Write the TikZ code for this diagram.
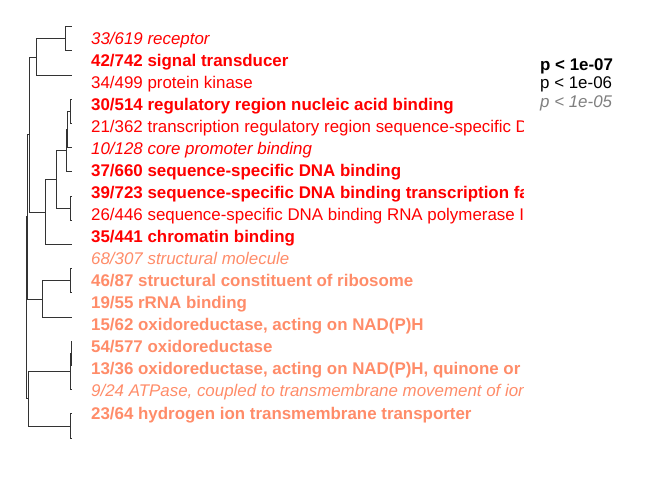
\documentclass[tikz,border=0pt]{standalone}
\usepackage{fontspec}
\setmainfont{Liberation Sans}
\definecolor{sigred}{RGB}{255,0,0}
\definecolor{sigsalmon}{RGB}{255,140,105}
\definecolor{leggray}{RGB}{127,127,127}
\begin{document}
\begin{tikzpicture}[x=1pt,y=-1pt,
  tree/.style={draw=black!80,line width=0.9pt},
  lbl/.style={anchor=base west,inner sep=0pt,font=\fontsize{16.9}{20}\selectfont},
  bf/.style={font=\fontsize{16.9}{20}\selectfont\bfseries},
  it/.style={font=\fontsize{16.9}{20}\selectfont\itshape},
  rd/.style={text=sigred},
  sl/.style={text=sigsalmon}]
\useasboundingbox (0,0) rectangle (672,480);
% leaves
\foreach \i in {0,...,17}{
  \coordinate (L\i) at (71.7,{26.7+24.2*\i});
}
% internal nodes
\coordinate (n01) at (65.3,38.8);
\coordinate (A) at (36,57);
\coordinate (n34) at (70.7,111.4);
\coordinate (P) at (67,129.6);
\coordinate (Q) at (66.3,150.7);
\coordinate (n78) at (70.7,208.2);
\coordinate (R) at (56,179.5);
\coordinate (S) at (45.3,212);
\coordinate (T) at (29,134.5);
\coordinate (n1011) at (70.7,280.8);
\coordinate (V) at (42.7,299);
\coordinate (N1) at (27.3,216.8);
\coordinate (n1314) at (71,353.4);
\coordinate (X) at (70.5,371.6);
\coordinate (Y) at (70.7,426);
\coordinate (W) at (28.5,398.8);
\coordinate (root) at (26.7,307.8);
% edges
\draw[tree] (n01) |- (L0); \draw[tree] (n01) |- (L1);
\draw[tree] (A) |- (n01); \draw[tree] (A) |- (L2);
\draw[tree] (n34) |- (L3); \draw[tree] (n34) |- (L4);
\draw[tree] (P) |- (n34); \draw[tree] (P) |- (L5);
\draw[tree] (Q) |- (P); \draw[tree] (Q) |- (L6);
\draw[tree] (n78) |- (L7); \draw[tree] (n78) |- (L8);
\draw[tree] (R) |- (Q); \draw[tree] (R) |- (n78);
\draw[tree] (S) |- (R); \draw[tree] (S) |- (L9);
\draw[tree] (T) |- (A); \draw[tree] (T) |- (S);
\draw[tree] (n1011) |- (L10); \draw[tree] (n1011) |- (L11);
\draw[tree] (V) |- (n1011); \draw[tree] (V) |- (L12);
\draw[tree] (N1) |- (T); \draw[tree] (N1) |- (V);
\draw[tree] (n1314) |- (L13); \draw[tree] (n1314) |- (L14);
\draw[tree] (X) |- (n1314); \draw[tree] (X) |- (L15);
\draw[tree] (Y) |- (L16); \draw[tree] (Y) |- (L17);
\draw[tree] (W) |- (X); \draw[tree] (W) |- (Y);
\draw[tree] (root) |- (N1); \draw[tree] (root) |- (W);
% labels
\begin{scope}
\clip (0,0) rectangle (523,480);
\node[lbl,it,rd] (t1) at (91,{44+22.06*0}) {33/619 receptor};
\node[lbl,bf,rd] (t2) at (91,{44+22.06*1}) {42/742 signal transducer};
\node[lbl,rd] (t3) at (91,{44+22.06*2}) {34/499 protein kinase};
\node[lbl,bf,rd] (t4) at (91,{44+22.06*3}) {30/514 regulatory region nucleic acid binding};
\node[lbl,rd] (t5) at (91,{44+22.06*4}) {21/362 transcription regulatory region sequence-specific D};
\node[lbl,it,rd] (t6) at (91,{44+22.06*5}) {10/128 core promoter binding};
\node[lbl,bf,rd] (t7) at (91,{44+22.06*6}) {37/660 sequence-specific DNA binding};
\node[lbl,bf,rd] (t8) at (91,{44+22.06*7}) {39/723 sequence-specific DNA binding transcription fa};
\node[lbl,rd] (t9) at (91,{44+22.06*8}) {26/446 sequence-specific DNA binding RNA polymerase I};
\node[lbl,bf,rd] (t10) at (91,{44+22.06*9}) {35/441 chromatin binding};
\node[lbl,it,sl] (t11) at (91,{44+22.06*10}) {68/307 structural molecule};
\node[lbl,bf,sl] (t12) at (91,{44+22.06*11}) {46/87 structural constituent of ribosome};
\node[lbl,bf,sl] (t13) at (91,{44+22.06*12}) {19/55 rRNA binding};
\node[lbl,bf,sl] (t14) at (91,{44+22.06*13}) {15/62 oxidoreductase, acting on NAD(P)H};
\node[lbl,bf,sl] (t15) at (91,{44+22.06*14}) {54/577 oxidoreductase};
\node[lbl,bf,sl] (t16) at (91,{44+22.06*15}) {13/36 oxidoreductase, acting on NAD(P)H, quinone or};
\node[lbl,it,sl] (t17) at (91,{44+22.06*16}) {9/24 ATPase, coupled to transmembrane movement of ion};
\node[lbl,bf,sl] (t18) at (91,{44+22.06*17}) {23/64 hydrogen ion transmembrane transporter};
\end{scope}
% legend
\node[lbl,bf,text=black] (p7) at (540,70) {p < 1e-07};
\node[lbl,text=black] (p6) at (540,88.5) {p < 1e-06};
\node[lbl,it,text=leggray] (p5) at (540,107) {p < 1e-05};
\end{tikzpicture}
\end{document}
